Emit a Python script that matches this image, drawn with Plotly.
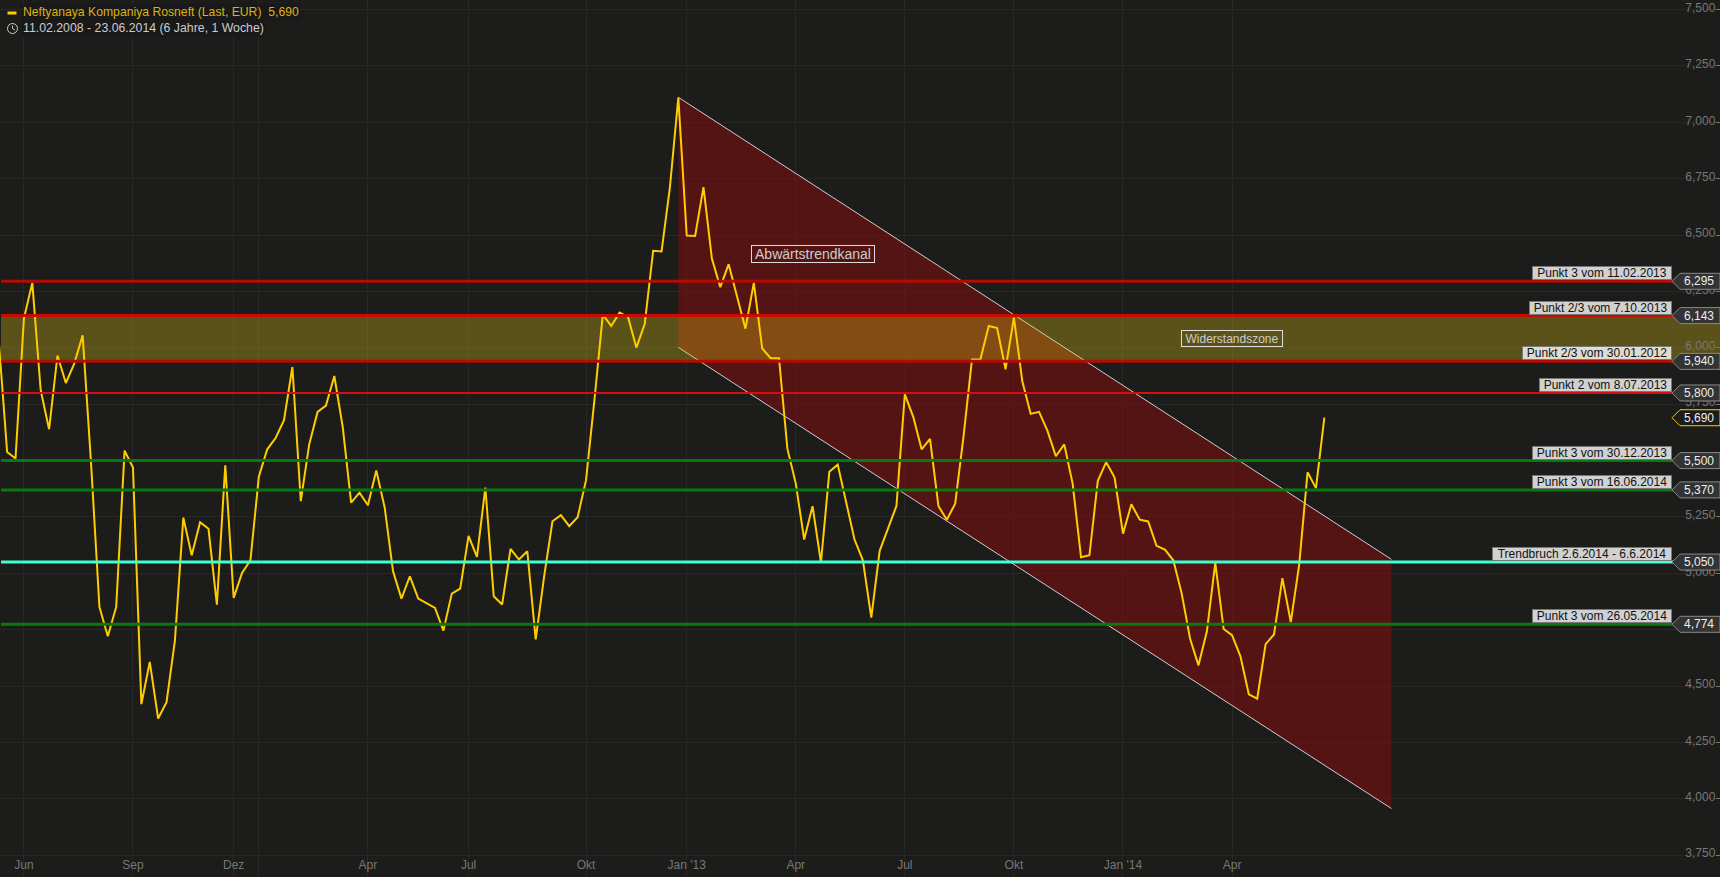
import plotly.graph_objects as go

# ---- data -------------------------------------------------------------
price = [6033, 5538, 5509, 6130, 6288, 5812, 5639, 5966, 5844, 5930, 6056, 5490, 4851, 4721, 4851, 5544,
         5469, 4420, 4607, 4356, 4429, 4703, 5247, 5080, 5227, 5198, 4861, 5479, 4891, 5002, 5058, 5428,
         5550, 5600, 5679, 5915, 5320, 5571, 5716, 5744, 5875, 5649, 5314, 5358, 5302, 5456, 5292, 5009,
         4888, 4987, 4888, 4867, 4847, 4746, 4910, 4932, 5166, 5073, 5380, 4898, 4862, 5108, 5061, 5098,
         4707, 4984, 5231, 5258, 5209, 5249, 5413, 5768, 6147, 6097, 6156, 6137, 6001, 6107, 6430, 6427,
         6713, 7110, 6498, 6496, 6713, 6396, 6269, 6371, 6226, 6085, 6288, 5997, 5954, 5954, 5553, 5398,
         5150, 5298, 5048, 5450, 5482, 5317, 5150, 5058, 4804, 5100, 5198, 5299, 5794, 5694, 5550, 5596,
         5299, 5238, 5309, 5608, 5948, 5948, 6097, 6088, 5905, 6134, 5852, 5707, 5716, 5632, 5519, 5572,
         5398, 5071, 5080, 5410, 5493, 5425, 5176, 5306, 5238, 5230, 5122, 5105, 5058, 4910, 4710, 4592,
         4743, 5046, 4753, 4726, 4632, 4463, 4444, 4686, 4729, 4979, 4784, 5038, 5448, 5378, 5690]
week_index = list(range(len(price)))

x_tick_index = [3, 16, 28, 31, 44, 56, 70, 82, 95, 108, 121, 134, 147]
x_tick_text = ["Jun", "Sep", "Dez", "", "Apr", "Jul", "Okt", "Jan '13", "Apr", "Jul", "Okt", "Jan '14", "Apr"]

y_tick_values = [3750, 4000, 4250, 4500, 4750, 5000, 5250, 5500, 5750, 6000, 6250, 6500, 6750, 7000, 7250, 7500]
y_tick_text = ["3,750", "4,000", "4,250", "4,500", "4,750", "5,000", "5,250", "5,500", "5,750", "6,000",
               "6,250", "6,500", "6,750", "7,000", "7,250", "7,500"]

level_values = [6295, 6143, 5940, 5800, 5500, 5370, 5050, 4774]
level_tags = ["6,295", "6,143", "5,940", "5,800", "5,500", "5,370", "5,050", "4,774"]
level_labels = ["Punkt 3 vom 11.02.2013", "Punkt 2/3 vom 7.10.2013", "Punkt 2/3 vom 30.01.2012",
                "Punkt 2 vom 8.07.2013", "Punkt 3 vom 30.12.2013", "Punkt 3 vom 16.06.2014",
                "Trendbruch 2.6.2014 - 6.6.2014", "Punkt 3 vom 26.05.2014"]

channel_index = [81, 166]
channel_upper = [7111, 5062]
channel_lower = [6002, 3957]
zone_bounds = [5940, 6143]

last_value = 5690
last_tag = "5,690"

# ---- styling ----------------------------------------------------------
FONT = "Liberation Sans"
BG = "#1c1c1b"
GRID = "#272726"
MUTED = "#777777"
X_RANGE = [0.15, 205.16]
Y_RANGE = [3653.4, 7542.5]
LINE_START = 0.27
level_colors = ["#b40c00", "#cc0a00", "#b40c00", "#d40f0f", "#087a0c", "#087a0c", "#3fffd2", "#087a0c"]
level_widths = [3, 3, 3, 2, 3, 3, 3, 3]
label_widths = [138, 141, 148, 131, 138, 138, 178, 138]

fig = go.Figure()

# channel fill and edges
fig.add_trace(go.Scatter(
    x=channel_index + channel_index[::-1], y=channel_upper + channel_lower[::-1],
    mode="lines", fill="toself", fillcolor="rgba(140,12,13,0.5)", line=dict(width=0),
    hoverinfo="skip", showlegend=False))
for edge in (channel_upper, channel_lower):
    fig.add_trace(go.Scatter(x=channel_index, y=edge, mode="lines",
                             line=dict(color="#cfcfcf", width=1), showlegend=False, hoverinfo="skip"))

# resistance zone
zx = [LINE_START, X_RANGE[1], X_RANGE[1], LINE_START]
fig.add_trace(go.Scatter(
    x=zx, y=[zone_bounds[0], zone_bounds[0], zone_bounds[1], zone_bounds[1]],
    mode="lines", fill="toself", fillcolor="rgba(245,217,16,0.286)", line=dict(width=0),
    hoverinfo="skip", showlegend=False))

# price
fig.add_trace(go.Scatter(x=week_index, y=price, mode="lines",
                         line=dict(color="#ffcc00", width=2), name="Neftyanaya Kompaniya Rosneft",
                         showlegend=False))

# horizontal levels
for v, c, w in zip(level_values, level_colors, level_widths):
    fig.add_trace(go.Scatter(x=[LINE_START, X_RANGE[1]], y=[v, v], mode="lines",
                             line=dict(color=c, width=w), showlegend=False, hoverinfo="skip"))

TAG_PATH = "M -48,0 L -40,8 L 0,8 L 0,-8 L -40,-8 Z"
shapes = []
ann = []
for v, tag, lab, lw in zip(level_values, level_tags, level_labels, label_widths):
    shapes.append(dict(type="path", xref="paper", yref="y", xsizemode="pixel", ysizemode="pixel",
                       xanchor=1, yanchor=v, path=TAG_PATH, fillcolor="#333333",
                       line=dict(color="#888888", width=1), layer="above"))
    ann.append(dict(xref="paper", yref="y", x=1, y=v, text=tag, showarrow=False, xanchor="right",
                    yanchor="middle", xshift=-4, font=dict(family=FONT, size=12, color="#eeeeee")))
    ann.append(dict(xref="paper", yref="y", x=1671.5 / 1720, y=v, text=lab, showarrow=False,
                    xanchor="right", yanchor="bottom", yshift=1, width=lw, height=12, align="center",
                    bgcolor="rgba(255,255,255,0.8)", bordercolor="#777777", borderwidth=1, borderpad=0,
                    font=dict(family=FONT, size=12, color="#111111")))

shapes.append(dict(type="path", xref="paper", yref="y", xsizemode="pixel", ysizemode="pixel",
                   xanchor=1, yanchor=last_value, path=TAG_PATH, fillcolor=BG,
                   line=dict(color="#ffcc00", width=1), layer="above"))
ann.append(dict(xref="paper", yref="y", x=1, y=last_value, text=last_tag, showarrow=False, xanchor="right",
                yanchor="middle", xshift=-4, font=dict(family=FONT, size=12, color="#eeeeee")))

# chart notes
ann.append(dict(xref="x", yref="y", x=97.05, y=6415, text="Abwärtstrendkanal", showarrow=False,
                width=122, height=16, bordercolor="#dddddd", borderwidth=1, borderpad=0,
                font=dict(family=FONT, size=14, color="#cccccc")))
ann.append(dict(xref="x", yref="y", x=147, y=6042, text="Widerstandszone", showarrow=False,
                width=100, height=15, bordercolor="#dddddd", borderwidth=1, borderpad=0,
                font=dict(family=FONT, size=12, color="#cccccc")))

# header
PW, PH = 1720.0, 877.0
ann.append(dict(xref="paper", yref="paper", x=21 / PW, y=1 - 12 / PH, xanchor="left", yanchor="middle",
                text="Neftyanaya Kompaniya Rosneft (Last, EUR)&nbsp;&nbsp;5,690", showarrow=False,
                bgcolor="#191919", font=dict(family=FONT, size=12.2, color="#ddb30c")))
ann.append(dict(xref="paper", yref="paper", x=21 / PW, y=1 - 28 / PH, xanchor="left", yanchor="middle",
                text="11.02.2008 - 23.06.2014 (6 Jahre, 1 Woche)", showarrow=False,
                bgcolor="#191919", font=dict(family=FONT, size=12.3, color="#cccccc")))
shapes.append(dict(type="rect", xref="paper", yref="paper", x0=7.5 / PW, x1=16.5 / PW,
                   y0=1 - 14.5 / PH, y1=1 - 11.5 / PH, fillcolor="#ffcc00", line=dict(width=0), layer="above"))
shapes.append(dict(type="circle", xref="paper", yref="paper", x0=7.5 / PW, x1=17.5 / PW,
                   y0=1 - 33.5 / PH, y1=1 - 23.5 / PH, line=dict(color="#cccccc", width=1), layer="above"))
shapes.append(dict(type="path", xref="paper", yref="paper",
                   path=f"M {12.5/PW},{1-25.5/PH} L {12.5/PW},{1-28.5/PH} L {15/PW},{1-30/PH}",
                   line=dict(color="#cccccc", width=1), layer="above"))

fig.update_layout(
    width=1720, height=877, margin=dict(l=0, r=0, t=0, b=0, autoexpand=False),
    paper_bgcolor=BG, plot_bgcolor=BG, showlegend=False, shapes=shapes, annotations=ann,
    font=dict(family=FONT, size=12, color=MUTED),
    xaxis=dict(range=X_RANGE, tickmode="array", tickvals=x_tick_index, ticktext=x_tick_text,
               ticklabelposition="inside", ticks="", ticklabelstandoff=3,
               showgrid=True, gridcolor=GRID, gridwidth=1, zeroline=False, showline=False,
               tickfont=dict(family=FONT, size=12, color=MUTED)),
    yaxis=dict(range=Y_RANGE, side="right", tickmode="array", tickvals=y_tick_values, ticktext=y_tick_text,
               ticklabelposition="inside", ticks="inside", ticklen=4, tickcolor=MUTED, ticklabelshift=-2,
               showgrid=True, gridcolor=GRID, gridwidth=1, zeroline=False, showline=False,
               tickfont=dict(family=FONT, size=12, color=MUTED)),
)

fig.write_html("out.html", config=dict(displayModeBar=False),
               post_script="document.body.style.margin='0';document.body.style.overflow='hidden';document.body.style.background='#1c1c1b';")
